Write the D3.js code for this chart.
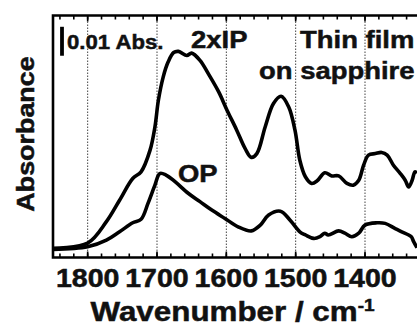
<!DOCTYPE html>
<html>
<head>
<meta charset="utf-8">
<script src="https://cdn.jsdelivr.net/npm/d3@7"></script>
<style>
  body { margin: 0; background: #fff; }
  text { font-family: "Liberation Sans", Arial, sans-serif; font-weight: bold; fill: #111; stroke: #111; stroke-width: 0.5px; }
</style>
</head>
<body>
<div id="chart"></div>
<script>
// spectra (wavenumber in cm-1, absorbance in Abs.)
const wnIP = [1850,1800,1773,1754,1735,1723,1710,1703,1698,1691,1684,1676,1669,1657,1650,1638,1626,1611,1599,1585,1573,1564,1556,1544,1532,1521,1510,1501,1494,1486,1477,1469,1458,1448,1438,1426,1417,1409,1402,1395,1385,1376,1368,1359,1349,1342,1337,1332,1328,1325];
const absIP = [0.0006,0.0024,0.0098,0.0172,0.0247,0.0270,0.0345,0.0425,0.0517,0.0598,0.0649,0.0682,0.0686,0.0672,0.0680,0.0655,0.0609,0.0546,0.0483,0.0414,0.0351,0.0320,0.0333,0.0425,0.0506,0.0531,0.0494,0.0414,0.0310,0.0253,0.0230,0.0239,0.0267,0.0256,0.0256,0.0230,0.0224,0.0241,0.0293,0.0328,0.0333,0.0337,0.0328,0.0293,0.0264,0.0241,0.0218,0.0241,0.0270,0.0266];

const wnOP = [1850,1800,1773,1754,1735,1723,1713,1703,1696,1687,1674,1655,1638,1621,1602,1583,1564,1551,1539,1522,1508,1494,1486,1474,1465,1458,1453,1438,1429,1419,1409,1400,1383,1371,1357,1347,1337,1333,1330,1325];
const absOP = [0.0002,0.0011,0.0034,0.0063,0.0094,0.0106,0.0161,0.0224,0.0264,0.0259,0.0236,0.0196,0.0167,0.0138,0.0109,0.0080,0.0066,0.0086,0.0121,0.0134,0.0103,0.0063,0.0052,0.0040,0.0046,0.0058,0.0052,0.0066,0.0058,0.0046,0.0058,0.0086,0.0094,0.0092,0.0075,0.0063,0.0052,0.0045,0.0030,0.0008];

const majorTicks = [1800, 1700, 1600, 1500, 1400];
const minorTicks = d3.range(1840, 1324, -20);
const scaleBar = [0.0771, 0.0671]; // 0.01 Abs.

const width = 417, height = 325;
const plotLeft = 53, plotTop = 15.5, plotBottom = 257.5;

const svg = d3.select("#chart").append("svg")
  .attr("width", width)
  .attr("height", height);

const x = d3.scaleLinear().domain([1850, 1325]).range([plotLeft, width]);
const y = d3.scaleLinear().domain([-0.00259, 0.081]).range([plotBottom, plotTop]);

// dotted guides at the major ticks
svg.selectAll(".grid")
  .data(majorTicks)
  .enter().append("line")
  .attr("x1", d => x(d)).attr("x2", d => x(d))
  .attr("y1", plotTop).attr("y2", plotBottom)
  .attr("stroke", "#444")
  .attr("stroke-width", 1)
  .attr("stroke-dasharray", "1.5,1.5");

// ticks (inward) on bottom and top
function ticks(vals, len) {
  svg.selectAll(null).data(vals).enter().append("line")
    .attr("x1", d => x(d)).attr("x2", d => x(d))
    .attr("y1", plotBottom).attr("y2", plotBottom - len)
    .attr("stroke", "#000").attr("stroke-width", 1.6);
  svg.selectAll(null).data(vals).enter().append("line")
    .attr("x1", d => x(d)).attr("x2", d => x(d))
    .attr("y1", plotTop).attr("y2", plotTop + len)
    .attr("stroke", "#000").attr("stroke-width", 1.6);
}
ticks(minorTicks, 4);
ticks(majorTicks, 6);

// frame
svg.append("path")
  .attr("d", `M${width},${plotTop}H${plotLeft}V${plotBottom}H${width}`)
  .attr("fill", "none")
  .attr("stroke", "#000")
  .attr("stroke-width", 2.6);

// spectra
const line = d3.line()
  .x(d => x(d[0]))
  .y(d => y(d[1]))
  .curve(d3.curveCatmullRom.alpha(0.5));

[[wnIP, absIP], [wnOP, absOP]].forEach(([w, a]) => {
  svg.append("path")
    .datum(w.map((v, i) => [v, a[i]]))
    .attr("d", line)
    .attr("fill", "none")
    .attr("stroke", "#000")
    .attr("stroke-width", 3.6)
    .attr("stroke-linejoin", "round");
});

// 0.01 Abs. scale bar
svg.append("line")
  .attr("x1", 62).attr("x2", 62)
  .attr("y1", y(scaleBar[0])).attr("y2", y(scaleBar[1]))
  .attr("stroke", "#000").attr("stroke-width", 3.8);

// text with the slightly wide glyphs of the original
function label(txt, tx, ty, size, anchor, rot, sx) {
  return svg.append("text")
    .attr("transform", `translate(${tx},${ty})` + (rot ? ` rotate(${rot})` : "") + ` scale(${sx || 1.12},1)`)
    .attr("text-anchor", anchor || "start")
    .style("font-size", size + "px")
    .text(txt);
}

label("0.01 Abs.", 67, 48.5, 20.5, "start", 0, 1.08);
label("2xIP", 191, 48, 24.5);
label("Thin film", 300, 48, 24.5);
label("on sapphire", 259, 79, 24.5);
label("OP", 178, 182, 24.5);

// tick labels
svg.selectAll(".tl")
  .data(majorTicks)
  .enter().append("text")
  .attr("transform", d => `translate(${x(d)},286.5) scale(1.12,1)`)
  .attr("text-anchor", "middle")
  .style("font-size", "25.5px")
  .text(d => d);

// axis titles
const xt = label("Wavenumber / cm", 90.5, 320.5, 28);
xt.append("tspan")
  .attr("dy", -10)
  .style("font-size", "17px")
  .text("-1");

label("Absorbance", 33.5, 134, 24, "middle", -90);
</script>
</body>
</html>
